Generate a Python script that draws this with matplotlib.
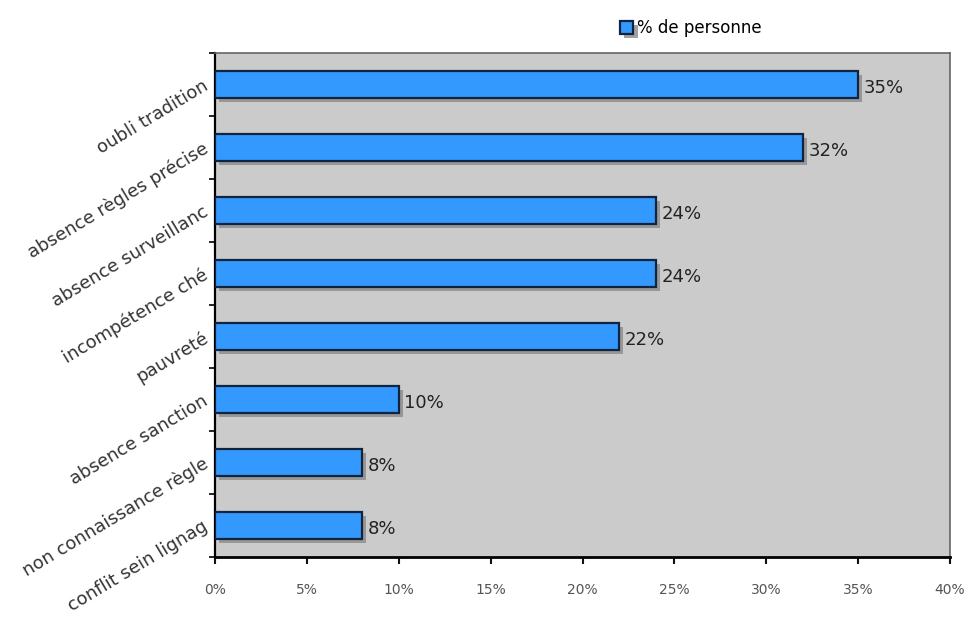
import numpy as np
import matplotlib.pyplot as plt
import matplotlib.patheffects as pe
from matplotlib.ticker import FuncFormatter, MultipleLocator

categories = ["oubli tradition", "absence règles précise", "absence surveillanc",
              "incompétence ché", "pauvreté", "absence sanction",
              "non connaissance règle", "conflit sein lignag"]
values = [35, 32, 24, 24, 22, 10, 8, 8]
value_labels = ["35%", "32%", "24%", "24%", "22%", "10%", "8%", "8%"]
series_name = "% de personne"

fig = plt.figure(figsize=(9.72, 6.17), dpi=100)
ax = fig.add_axes([215 / 972, 1 - 557 / 617, (950 - 215) / 972, (557 - 53) / 617])
ax.set_facecolor("#cbcbcb")

y = np.arange(len(categories))
bars = ax.barh(y, values, height=0.42, color="#3399ff", edgecolor="#10243f",
               linewidth=1.6, zorder=3, label=series_name)
for b in bars:
    b.set_path_effects([pe.SimplePatchShadow(offset=(3, -3), shadow_rgbFace="#8a8a8a", alpha=0.8),
                        pe.Normal()])

for yi, v, lab in zip(y, values, value_labels):
    ax.text(v + 0.3, yi + 0.05, lab, va="center", ha="left", fontsize=13, color="#222222")

ax.set_xlim(0, 40)
ax.set_ylim(len(categories) - 0.5, -0.5)
ax.xaxis.set_major_locator(MultipleLocator(5))
ax.xaxis.set_major_formatter(FuncFormatter(lambda v, _: f"{v:.0f}%"))
ax.tick_params(axis="x", direction="out", length=5, width=1.5, labelsize=10,
               pad=14, colors="#111111", labelcolor="#555555")

ax.set_yticks(y)
ax.set_yticklabels(categories, rotation=31, ha="right", va="center",
                   rotation_mode="anchor", fontsize=13, color="#333333")
ax.set_yticks(np.arange(len(categories) + 1) - 0.5, minor=True)
ax.tick_params(axis="y", which="major", length=0, pad=6)
ax.tick_params(axis="y", which="minor", direction="out", length=4, width=1.2)

for s in ["top", "right"]:
    ax.spines[s].set_color("#666666")
    ax.spines[s].set_linewidth(1.2)
ax.spines["bottom"].set_linewidth(2)
ax.spines["left"].set_linewidth(1.6)

fig.legend(handles=[bars], labels=[series_name], loc="center left",
           bbox_to_anchor=(605 / 972, 1 - 28 / 617), frameon=False,
           fontsize=12, handlelength=0.8, handleheight=0.8, handletextpad=0.2)

fig.savefig("out.png", dpi=100, facecolor="white")
